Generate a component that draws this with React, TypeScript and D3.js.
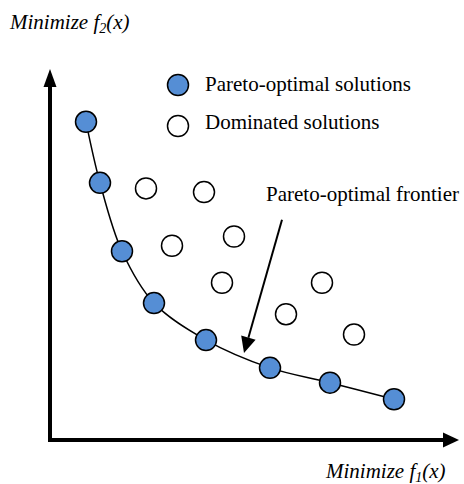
import * as d3 from "d3";
import React, { useEffect } from "react";

// pareto-optimal points [f1, f2]
const paretoPoints = [
  [9, 86], [12.5, 69.5], [18, 51], [26, 37],
  [39, 27], [55, 19.5], [70, 15.5], [86, 11],
] as [number, number][];

// dominated points [f1, f2]
const dominatedPoints = [
  [24, 68], [38.5, 67], [30.5, 52.5], [46, 55],
  [43, 42.5], [68, 42.5], [59, 34], [76, 28.5],
] as [number, number][];

const legendLabels = ["Pareto-optimal solutions", "Dominated solutions"];
const frontierLabel = "Pareto-optimal frontier";
// arrow from label down to the frontier, in data units
const frontierArrow = [[58, 59.5], [48.5, 23.5]] as [number, number][];

const width = 464;
const height = 484;
const blue = "#558ed5";
const serif = "'Liberation Serif', 'Times New Roman', serif";
const fs = 21;

export default function App() {
  useEffect(() => {
    document.body.style.margin = "0";
  }, []);

  const x = d3.scaleLinear().domain([0, 100]).range([50, 450]);
  const y = d3.scaleLinear().domain([0, 100]).range([440, 70]);

  const curve = d3.line<[number, number]>()
    .x((d) => x(d[0]))
    .y((d) => y(d[1]))
    .curve(d3.curveCatmullRom.alpha(0.5));

  const [a0, a1] = frontierArrow;
  const ax0 = x(a0[0]), ay0 = y(a0[1]);
  const ax1 = x(a1[0]), ay1 = y(a1[1]);
  const ang = Math.atan2(ay1 - ay0, ax1 - ax0);
  const headLen = 16, headW = 7.5;
  const bx = ax1 - headLen * Math.cos(ang), by = ay1 - headLen * Math.sin(ang);
  const head = [
    [ax1, ay1],
    [bx + headW * Math.sin(ang), by - headW * Math.cos(ang)],
    [bx - headW * Math.sin(ang), by + headW * Math.cos(ang)],
  ].map((p) => p.join(",")).join(" ");

  return (
    <svg width={width} height={height} style={{ display: "block", background: "#fff" }}>
      {/* axes */}
      <line x1={x(0)} y1={y(0) + 2} x2={x(0)} y2={86} stroke="#000" strokeWidth={4} />
      <polygon points={`${x(0)},69 ${x(0) - 6.5},87 ${x(0) + 6.5},87`} fill="#000" />
      <line x1={x(0) - 2} y1={y(0)} x2={444} y2={y(0)} stroke="#000" strokeWidth={4} />
      <polygon points={`459,${y(0)} 443,${y(0) - 7.5} 443,${y(0) + 7.5}`} fill="#000" />

      {/* frontier curve */}
      <path d={curve(paretoPoints) ?? ""} fill="none" stroke="#000" strokeWidth={1.5} />

      {dominatedPoints.map((d, i) => (
        <circle key={"d" + i} cx={x(d[0])} cy={y(d[1])} r={10.5} fill="#fff" stroke="#000" strokeWidth={1.5} />
      ))}
      {paretoPoints.map((d, i) => (
        <circle key={"p" + i} cx={x(d[0])} cy={y(d[1])} r={10.5} fill={blue} stroke="#000" strokeWidth={1.5} />
      ))}

      {/* legend */}
      <circle cx={178} cy={85} r={10.5} fill={blue} stroke="#000" strokeWidth={1.5} />
      <circle cx={178} cy={126} r={10.5} fill="#fff" stroke="#000" strokeWidth={1.5} />
      <text x={205} y={91} fontFamily={serif} fontSize={fs}>{legendLabels[0]}</text>
      <text x={205} y={129} fontFamily={serif} fontSize={fs}>{legendLabels[1]}</text>

      {/* frontier annotation */}
      <text x={266} y={201} fontFamily={serif} fontSize={fs}>{frontierLabel}</text>
      <line x1={ax0} y1={ay0} x2={bx} y2={by} stroke="#000" strokeWidth={2} />
      <polygon points={head} fill="#000" />

      {/* axis titles */}
      <text x={10} y={29} fontFamily={serif} fontSize={fs} fontStyle="italic">
        Minimize f<tspan fontSize={14} dy={4}>2</tspan><tspan dy={-4}>(x)</tspan>
      </text>
      <text x={326} y={478} fontFamily={serif} fontSize={fs} fontStyle="italic">
        Minimize f<tspan fontSize={14} dy={4}>1</tspan><tspan dy={-4}>(x)</tspan>
      </text>
    </svg>
  );
}
